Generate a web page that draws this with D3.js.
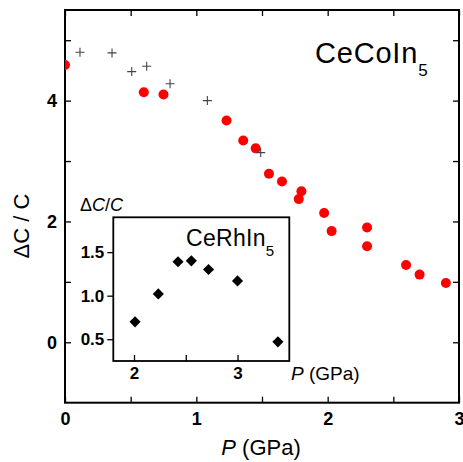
<!DOCTYPE html>
<html>
<head>
<meta charset="utf-8">
<script src="https://cdn.jsdelivr.net/npm/d3@7"></script>
<style>
  body { margin: 0; background: #fff; }
  text { font-family: "Liberation Sans", Arial, sans-serif; }
</style>
</head>
<body>
<div id="chart"></div>
<script>
// CeCoIn5, red circles
const coinP = [0, 0.60, 0.75, 1.23, 1.357, 1.452, 1.553, 1.652, 1.80, 1.78, 1.973, 2.03, 2.30, 2.30, 2.597, 2.70, 2.90];
const coinC = [4.59, 4.14, 4.10, 3.67, 3.34, 3.21, 2.79, 2.66, 2.50, 2.37, 2.14, 1.84, 1.90, 1.59, 1.28, 1.12, 0.98];
// CeCoIn5, crosses (other data)
const crossP = [0.114, 0.358, 0.508, 0.622, 0.80, 1.084, 1.49];
const crossC = [4.80, 4.79, 4.48, 4.57, 4.28, 4.00, 3.14];
// CeRhIn5 inset, diamonds
const rhP = [2.01, 2.235, 2.425, 2.554, 2.72, 3.0, 3.39];
const rhC = [0.70, 1.02, 1.39, 1.40, 1.30, 1.17, 0.47];

const mainXTicks = [0, 0.5, 1, 1.5, 2, 2.5, 3];
const mainYTicks = [0, 1, 2, 3, 4, 5];
const mainYLabels = [0, 2, 4];
const insetXTicks = [2, 2.5, 3];
const insetYTicks = [0.5, 1.0, 1.5];

const W = 463, H = 462;
const svg = d3.select("#chart").append("svg")
    .attr("width", W).attr("height", H);

const x = d3.scaleLinear().domain([0, 3]).range([65, 459]);
const y = d3.scaleLinear().domain([-1, 5.5]).range([402.7, 10]);

function styleAxis(g, size) {
    g.select(".domain").remove();
    g.selectAll("line").attr("stroke", "#000").attr("stroke-width", 1.3);
    g.selectAll("text").attr("fill", "#000").attr("font-weight", "bold")
        .attr("font-size", size).attr("font-family", "Liberation Sans, Arial, sans-serif");
}

// main axes, ticks pointing inward
svg.append("g").attr("transform", `translate(0,${y.range()[0]})`)
    .call(d3.axisBottom(x).tickValues(mainXTicks).tickSize(-6).tickPadding(10)
        .tickFormat(d => Number.isInteger(d) ? d : ""))
    .call(g => styleAxis(g, 18));
svg.append("g").attr("transform", `translate(0,${y.range()[1]})`)
    .call(d3.axisTop(x).tickValues(mainXTicks).tickSize(-6).tickFormat(""))
    .call(g => styleAxis(g, 18));
svg.append("g").attr("transform", `translate(${x.range()[0]},0)`)
    .call(d3.axisLeft(y).tickValues(mainYTicks).tickSize(-6).tickPadding(8)
        .tickFormat(d => mainYLabels.includes(d) ? d : ""))
    .call(g => styleAxis(g, 18));
svg.append("g").attr("transform", `translate(${x.range()[1]},0)`)
    .call(d3.axisRight(y).tickValues(mainYTicks).tickSize(-6).tickFormat(""))
    .call(g => styleAxis(g, 18));

svg.append("rect")
    .attr("x", x.range()[0]).attr("y", y.range()[1])
    .attr("width", x.range()[1] - x.range()[0])
    .attr("height", y.range()[0] - y.range()[1])
    .attr("fill", "none").attr("stroke", "#000").attr("stroke-width", 2);

svg.append("clipPath").attr("id", "plot-clip")
    .append("rect")
    .attr("x", x.range()[0]).attr("y", y.range()[1])
    .attr("width", x.range()[1] - x.range()[0])
    .attr("height", y.range()[0] - y.range()[1]);

// red circles
svg.append("g").attr("clip-path", "url(#plot-clip)")
    .selectAll("circle").data(coinP)
    .join("circle")
    .attr("cx", d => x(d))
    .attr("cy", (d, i) => y(coinC[i]))
    .attr("r", 5)
    .attr("fill", "#ff0000");

// crosses
svg.append("g").selectAll("path").data(crossP)
    .join("path")
    .attr("transform", (d, i) => `translate(${x(d)},${y(crossC[i])})`)
    .attr("d", "M-4.5,0H4.5M0,-4.5V4.5")
    .attr("stroke", "#444")
    .attr("stroke-width", 1.1)
    .attr("fill", "none");

// axis titles
svg.append("text")
    .attr("transform", `translate(29,226) rotate(-90)`)
    .attr("text-anchor", "middle")
    .attr("font-size", 22)
    .text("\u0394C / C");

svg.append("text")
    .attr("x", 261).attr("y", 455)
    .attr("text-anchor", "middle")
    .attr("font-size", 22)
    .html('<tspan font-style="italic">P</tspan> (GPa)');

svg.append("text")
    .attr("x", 315).attr("y", 63)
    .attr("font-size", 29)
    .attr("letter-spacing", 0.8)
    .html('CeCoIn<tspan font-size="17" dy="13">5</tspan>');

// inset
const xi = d3.scaleLinear().domain([1.8, 3.5]).range([113.3, 289.3]);
const yi = d3.scaleLinear().domain([0.25, 1.9]).range([361, 217.3]);

svg.append("rect")
    .attr("x", xi.range()[0]).attr("y", yi.range()[1])
    .attr("width", xi.range()[1] - xi.range()[0])
    .attr("height", yi.range()[0] - yi.range()[1])
    .attr("fill", "#fff");

svg.append("g").attr("transform", `translate(0,${yi.range()[0]})`)
    .call(d3.axisBottom(xi).tickValues(insetXTicks).tickSize(-6).tickPadding(6)
        .tickFormat(d => Number.isInteger(d) ? d : ""))
    .call(g => styleAxis(g, 17));
svg.append("g").attr("transform", `translate(${xi.range()[0]},0)`)
    .call(d3.axisLeft(yi).tickValues(insetYTicks).tickSize(6).tickPadding(3)
        .tickFormat(d3.format(".1f")))
    .call(g => styleAxis(g, 17));

svg.append("rect")
    .attr("x", xi.range()[0]).attr("y", yi.range()[1])
    .attr("width", xi.range()[1] - xi.range()[0])
    .attr("height", yi.range()[0] - yi.range()[1])
    .attr("fill", "none").attr("stroke", "#000").attr("stroke-width", 1.8);

svg.append("g").selectAll("path").data(rhP)
    .join("path")
    .attr("transform", (d, i) => `translate(${xi(d)},${yi(rhC[i])}) rotate(45)`)
    .attr("d", d3.symbol(d3.symbolSquare, 62))
    .attr("fill", "#000");

svg.append("text")
    .attr("x", 80).attr("y", 211)
    .attr("font-size", 18)
    .html('\u0394<tspan font-style="italic">C</tspan>/<tspan font-style="italic">C</tspan>');

svg.append("text")
    .attr("x", 291).attr("y", 380)
    .attr("font-size", 19)
    .html('<tspan font-style="italic">P</tspan> (GPa)');

svg.append("text")
    .attr("x", 186).attr("y", 246)
    .attr("font-size", 23)
    .attr("letter-spacing", 0.3)
    .html('CeRhIn<tspan font-size="15" dy="10">5</tspan>');
</script>
</body>
</html>
